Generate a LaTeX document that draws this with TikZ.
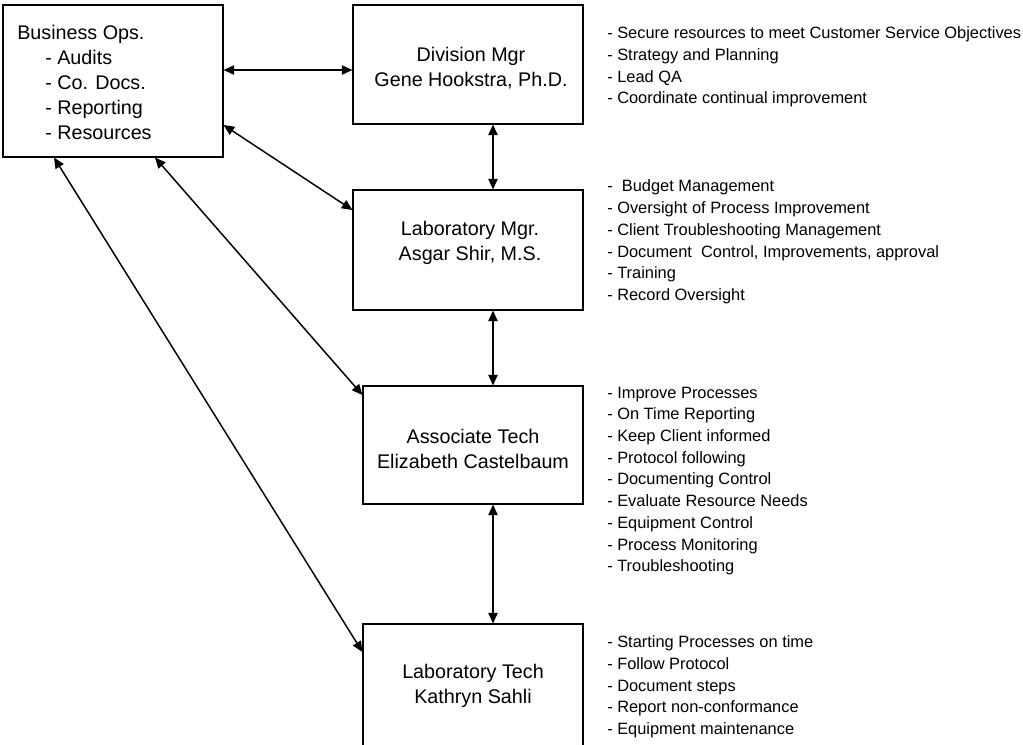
\documentclass[tikz,border=0pt]{standalone}
\usepackage{fontspec}
\setmainfont{Liberation Sans}
\usetikzlibrary{arrows.meta}
\begin{document}
\begin{tikzpicture}[x=0.75pt,y=-0.75pt,
  box/.style={draw=black,line width=0.8pt,rectangle,inner sep=0pt},
  boxtext/.style={align=center,font=\fontsize{14.8}{18.75}\selectfont,inner sep=0pt},
  notes/.style={align=left,anchor=west,font=\fontsize{12.3}{16.3}\selectfont,inner sep=0pt},
  link/.style={line width=1.1pt,{Triangle[length=8pt,width=7pt]}-{Triangle[length=8pt,width=7pt]}}
]
\useasboundingbox (0,0) rectangle (1023,744);
% boxes
\node[box,minimum width=165pt,minimum height=114pt] (bops) at (113,81) {};
\node[box,minimum width=172.5pt,minimum height=89.25pt] (div) at (468,64.5) {};
\node[box,minimum width=172.5pt,minimum height=90pt] (lmgr) at (468,250) {};
\node[box,minimum width=165pt,minimum height=88.5pt] (assoc) at (473,445) {};
\node[box,minimum width=165pt,minimum height=91.5pt] (ltech) at (473,685) {};
% box texts
\node[boxtext,align=left,anchor=west] (bopst) at (17,82)
  {Business Ops.\\\hspace*{21pt}- Audits\\\hspace*{21pt}- Co. Docs.\\\hspace*{21pt}- Reporting\\\hspace*{21pt}- Resources};
\node[boxtext] (divt) at (471,68.5) {Division Mgr\\Gene Hookstra, Ph.D.};
\node[boxtext] (lmgrt) at (470,242.5) {Laboratory Mgr.\\Asgar Shir, M.S.};
\node[boxtext] (assoct) at (473,448.5) {Associate Tech\\Elizabeth Castelbaum};
\node[boxtext] (ltecht) at (473,685.5) {Laboratory Tech\\Kathryn Sahli};
% notes
\node[notes] (divn) at (607,67) {- Secure resources to meet Customer Service Objectives\\- Strategy and Planning\\- Lead QA\\- Coordinate continual improvement};
\node[notes] (lmgrn) at (607,242) {- \ Budget Management\\- Oversight of Process Improvement\\- Client Troubleshooting Management\\- Document \ Control, Improvements, approval\\- Training\\- Record Oversight};
\node[notes] (assocn) at (607,481) {- Improve Processes\\- On Time Reporting\\- Keep Client informed\\- Protocol following\\- Documenting Control\\- Evaluate Resource Needs\\- Equipment Control\\- Process Monitoring\\- Troubleshooting};
\node[notes] (ltechn) at (607,687) {- Starting Processes on time\\- Follow Protocol\\- Document steps\\- Report non-conformance\\- Equipment maintenance};
% connectors
\draw[link] ([yshift=8.25pt]bops.east) -- ([yshift=8.25pt]bops.east -| div.west);
\draw[link] ([yshift=-33pt]bops.east) -- ([yshift=30pt]lmgr.west);
\draw[link] ([xshift=31.5pt]bops.south) -- ([yshift=37.5pt]assoc.west);
\draw[link] ([xshift=-44.25pt]bops.south) -- ([yshift=24.75pt]ltech.west);
\draw[link] ([xshift=18.75pt]div.south) -- ([xshift=18.75pt]div.south |- lmgr.north);
\draw[link] ([xshift=18.75pt]lmgr.south) -- ([xshift=18.75pt]lmgr.south |- assoc.north);
\draw[link] ([xshift=15pt]assoc.south) -- ([xshift=15pt]assoc.south |- ltech.north);
\end{tikzpicture}
\end{document}
